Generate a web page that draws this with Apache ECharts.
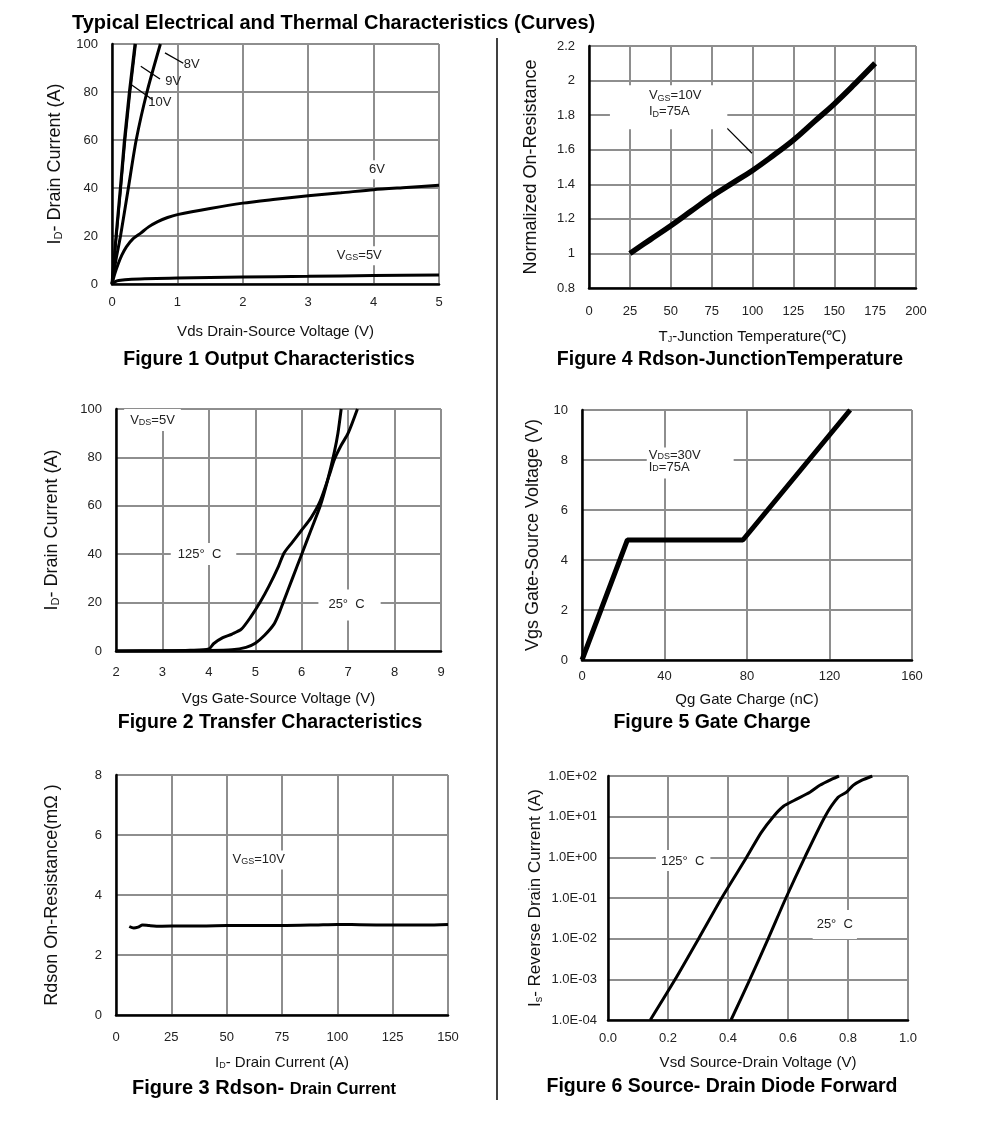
<!DOCTYPE html>
<html><head><meta charset="utf-8">
<script src="https://cdn.jsdelivr.net/npm/echarts@6/dist/echarts.min.js"></script>
<style>html,body{margin:0;padding:0;background:#fff}#c{width:991px;height:1122px}</style>
</head><body><div id="c"></div>
<script>
// ---------- DATA ----------
// Figure 1: Output characteristics  [Vds (V), Id (A)]
const fig1Vgs10 = [[0,0],[0.062,20],[0.128,40],[0.19,60],[0.266,80],[0.352,100]];
const fig1Vgs9  = [[0,0],[0.068,20],[0.135,40],[0.2,60],[0.276,80],[0.362,100]];
const fig1Vgs8  = [[0,0],[0.06,10],[0.13,20],[0.25,40],[0.37,60],[0.535,80],[0.74,100]];
const fig1Vgs6  = [[0,0],[0.04,4],[0.09,8],[0.15,12],[0.22,15.5],[0.32,18.8],[0.44,21.2],[0.56,23.8],[0.7,26],[0.85,27.7],[1,28.9],[1.5,31.5],[2,33.7],[2.5,35.3],[3,36.8],[3.5,38],[4,39.3],[4.5,40.2],[5,41.1]];
const fig1Vgs5  = [[0,0],[0.05,1],[0.1,1.5],[0.3,2],[1,2.5],[2,2.9],[3,3.2],[4,3.5],[5,3.8]];
// Figure 2: Transfer characteristics [Vgs (V), Id (A)]
const fig2T25  = [[2,0],[3,0.1],[4,0.2],[4.5,0.5],[4.8,1.5],[5.0,3.2],[5.2,6.5],[5.4,11],[5.5,15],[5.6,20],[5.8,30],[6.0,40],[6.2,50],[6.4,60],[6.55,70],[6.7,82],[6.78,90],[6.85,100]];
const fig2T125 = [[2,0],[3,0.1],[3.6,0.3],[4.0,0.8],[4.1,3],[4.3,5.5],[4.5,7],[4.7,9],[4.9,14],[5.1,20],[5.3,27],[5.5,35],[5.62,40.5],[5.8,45],[6.0,50],[6.2,55],[6.4,62],[6.6,73],[6.7,79],[6.85,85],[7.0,90],[7.2,100]];
// Figure 3: Rdson vs drain current
const fig3Id    = [6,8,10,12,15,20,30,40,50,60,75,90,100,110,125,140,150];
const fig3Rdson = [2.95,2.9,2.93,3.0,2.98,2.96,2.97,2.97,2.98,2.98,2.98,3.0,3.02,3.01,3.0,3.0,3.02];
// Figure 4: normalized Rdson vs Tj
const fig4Tj   = [25,37.5,50,62.5,75,87.5,100,112.5,125,137.5,150,162.5,175];
const fig4Norm = [1.0,1.08,1.16,1.245,1.33,1.405,1.48,1.565,1.655,1.76,1.865,1.98,2.1];
// Figure 5: gate charge [Qg (nC), Vgs (V)]
const fig5Qg  = [0,22,78,130];
const fig5Vgs = [0,4.8,4.8,10];
// Figure 6: diode forward [Vsd (V), Is (A)]
const fig6T125 = [[0.141,1e-4],[0.224,1e-3],[0.302,1e-2],[0.379,1e-1],[0.462,1],[0.51,4],[0.551,10],[0.585,18],[0.62,25],[0.673,40],[0.706,59],[0.75,86],[0.77,100]];
const fig6T25  = [[0.41,1e-4],[0.473,1e-3],[0.534,1e-2],[0.593,1e-1],[0.656,1],[0.723,10],[0.767,30],[0.795,40],[0.817,59],[0.845,78],[0.881,100]];

// ---------- STYLE ----------
const FONT = "'Liberation Sans', Arial, Helvetica, sans-serif";
const GRIDC = '#8e8e8e';
const RICH = {
  sub: { fontSize: 9, lineHeight: 10, verticalAlign: 'bottom', fontFamily: FONT, color: '#222' },
  subN: { fontSize: 11, lineHeight: 11, verticalAlign: 'bottom', fontFamily: FONT, color: '#222' }
};

function axis(gi, min, max, interval, name, gap, margin, nameSize, fmt, extra) {
  const a = {
    gridIndex: gi, type: 'value', min: min, max: max,
    name: name, nameLocation: 'middle', nameGap: gap,
    nameTextStyle: { fontFamily: FONT, fontSize: nameSize, color: '#111', rich: RICH },
    axisLine: { show: true, onZero: false, lineStyle: { color: '#000', width: 2.5 } },
    axisTick: { show: false },
    axisLabel: { margin: margin, fontFamily: FONT, fontSize: 13, color: '#222' },
    splitLine: { show: true, lineStyle: { color: GRIDC, width: 2 } }
  };
  if (interval != null) a.interval = interval;
  if (fmt) a.axisLabel.formatter = fmt;
  return Object.assign(a, extra || {});
}
function line(gi, data, width, extra) {
  return Object.assign({
    type: 'line', xAxisIndex: gi, yAxisIndex: gi, data: data, symbol: 'none',
    smooth: 0.25,
    lineStyle: { color: '#000', width: width }, itemStyle: { color: '#000' }, silent: true
  }, extra || {});
}
function note(x, y, text, opts) {
  return {
    coord: [x, y], symbol: 'rect', symbolSize: 0,
    label: Object.assign({
      show: true, position: 'inside', formatter: text, fontFamily: FONT, fontSize: 13,
      color: '#222', rich: RICH, backgroundColor: '#fff', padding: 3
    }, opts || {})
  };
}
function notes(list) { return { silent: true, animation: false, data: list }; }
function arrows(list) {
  return {
    silent: true, animation: false, symbol: ['none', 'arrow'], symbolSize: [0, 8],
    label: { show: false }, lineStyle: { color: '#000', width: 1.3, type: 'solid' },
    emphasis: { disabled: true },
    data: list.map(a => [{ coord: a[0] }, { coord: a[1] }])
  };
}
const logFmt = v => { const e = Math.round(Math.log10(v)); return '1.0E' + (e < 0 ? '-' : '+') + String(Math.abs(e)).padStart(2, '0'); };
const XN = 15, YN = 18;

const option = {
  animation: false,
  backgroundColor: '#fff',
  grid: [
    { left: 112, top: 44, width: 327, height: 240 },   // Fig 1
    { left: 589, top: 46, width: 327, height: 242 },   // Fig 4
    { left: 116, top: 409, width: 325, height: 242 },  // Fig 2
    { left: 582, top: 410, width: 330, height: 250 },  // Fig 5
    { left: 116, top: 775, width: 332, height: 240 },  // Fig 3
    { left: 608, top: 776, width: 300, height: 244 }   // Fig 6
  ],
  xAxis: [
    axis(0, 0, 5, 1, 'Vds Drain-Source Voltage (V)', 40, 12, XN),
    axis(1, 0, 200, 25, 'T{sub|J}-Junction Temperature(℃)', 41, 17, XN),
    axis(2, 2, 9, 1, 'Vgs Gate-Source Voltage (V)', 40, 15, XN),
    axis(3, 0, 160, 40, 'Qg Gate Charge (nC)', 32, 10, XN),
    axis(4, 0, 150, 25, 'I{sub|D}- Drain Current (A)', 40, 16, XN),
    axis(5, 0, 1, 0.2, 'Vsd Source-Drain Voltage (V)', 35, 12, XN, v => v.toFixed(1))
  ],
  yAxis: [
    axis(0, 0, 100, 20, 'I{subN|D}- Drain Current (A)', 48, 14, YN),
    axis(1, 0.8, 2.2, 0.2, 'Normalized On-Resistance', 49, 14, YN),
    axis(2, 0, 100, 20, 'I{subN|D}- Drain Current (A)', 55, 14, YN),
    axis(3, 0, 10, 2, 'Vgs Gate-Source Voltage (V)', 40, 14, YN),
    axis(4, 0, 8, 2, 'Rdson On-Resistance(mΩ )', 55, 14, YN),
    axis(5, 1e-4, 100, null, 'I{subN|s}- Reverse Drain Current (A)', 59, 11, 17, logFmt, { type: 'log', logBase: 10 })
  ],
  series: [
    // Fig 1
    line(0, fig1Vgs10, 3, { smooth: false }),
    line(0, fig1Vgs9, 2.5, { smooth: false }),
    line(0, fig1Vgs8, 3, {
      markLine: arrows([[[1.09, 92], [0.81, 96.3]], [[0.734, 85.4], [0.44, 90.7]], [[0.622, 76.8], [0.275, 83.4]]])
    }),
    line(0, fig1Vgs6, 3),
    line(0, fig1Vgs5, 3, {
      markPoint: notes([
        note(1.22, 91.4, '8V', { backgroundColor: 'transparent' }),
        note(0.937, 84.4, '9V', { backgroundColor: 'transparent' }),
        note(0.73, 75.7, '10V', { backgroundColor: 'transparent' }),
        note(4.05, 47.6, '6V'),
        note(3.78, 11.8, 'V{sub|GS}=5V')
      ])
    }),
    // Fig 4
    line(1, fig4Tj.map((t, i) => [t, fig4Norm[i]]), 5.5, {
      smooth: 0.4,
      markPoint: notes([
        note(12.8, 1.846, 'V{sub|GS}=10V\nI{sub|D}=75A', { align: 'left', verticalAlign: 'middle', lineHeight: 16, padding: [2, 26, 10, 39] })
      ]),
      markLine: arrows([[[84.4, 1.725], [99.7, 1.58]]])
    }),
    // Fig 2
    line(2, fig2T25, 3),
    line(2, fig2T125, 3, {
      markPoint: notes([
        note(2.786, 95.5, 'V{sub|DS}=5V', { padding: [5, 6, 4, 6] }),
        note(3.885, 40.1, '125°  C', { padding: [5, 15, 4, 7] }),
        note(7.03, 19, '25°  C', { padding: [8, 16, 10, 10] })
      ])
    }),
    // Fig 5
    line(3, fig5Qg.map((q, i) => [q, fig5Vgs[i]]), 5, {
      smooth: false,
      markPoint: notes([
        note(31.4, 7.88, 'V{sub|DS}=30V\nI{sub|D}=75A', { align: 'left', verticalAlign: 'middle', lineHeight: 12, padding: [2, 33, 5, 2] })
      ])
    }),
    // Fig 3
    line(4, fig3Id.map((d, i) => [d, fig3Rdson[i]]), 3, {
      markPoint: notes([ note(64.5, 5.17, 'V{sub|GS}=10V') ])
    }),
    // Fig 6
    line(5, fig6T125, 3),
    line(5, fig6T25, 3, {
      markPoint: notes([
        note(0.2505, 0.84, '125°  C', { padding: [5, 6, 3, 5] }),
        note(0.756, 0.0222, '25°  C', { padding: [8, 4, 8, 4] })
      ])
    })
  ],
  graphic: [
    { type: 'text', x: 72, y: 23, style: { text: 'Typical Electrical and Thermal Characteristics (Curves)', font: 'bold 20px ' + FONT, fill: '#000', align: 'left', verticalAlign: 'middle', textAlign: 'left', textVerticalAlign: 'middle' } },
    { type: 'line', shape: { x1: 497, y1: 38, x2: 497, y2: 1100 }, style: { stroke: '#000', lineWidth: 1.5 } },
    { type: 'text', x: 269, y: 360, style: { text: 'Figure 1 Output Characteristics', font: 'bold 19.5px ' + FONT, fill: '#000', align: 'center', verticalAlign: 'middle', textAlign: 'center', textVerticalAlign: 'middle' } },
    { type: 'text', x: 730, y: 360, style: { text: 'Figure 4 Rdson-JunctionTemperature', font: 'bold 19.5px ' + FONT, fill: '#000', align: 'center', verticalAlign: 'middle', textAlign: 'center', textVerticalAlign: 'middle' } },
    { type: 'text', x: 270, y: 723, style: { text: 'Figure 2 Transfer Characteristics', font: 'bold 19.5px ' + FONT, fill: '#000', align: 'center', verticalAlign: 'middle', textAlign: 'center', textVerticalAlign: 'middle' } },
    { type: 'text', x: 712, y: 723, style: { text: 'Figure 5 Gate Charge', font: 'bold 19.5px ' + FONT, fill: '#000', align: 'center', verticalAlign: 'middle', textAlign: 'center', textVerticalAlign: 'middle' } },
    { type: 'text', x: 264, y: 1088, style: { text: '{b|Figure 3 Rdson- }{s|Drain Current}', rich: { b: { font: 'bold 20px ' + FONT, fill: '#000', color: '#000', verticalAlign: 'bottom' }, s: { font: 'bold 16.5px ' + FONT, fill: '#000', color: '#000', verticalAlign: 'bottom' } }, align: 'center', verticalAlign: 'middle', textAlign: 'center', textVerticalAlign: 'middle' } },
    { type: 'text', x: 722, y: 1087, style: { text: 'Figure 6 Source- Drain Diode Forward', font: 'bold 19.5px ' + FONT, fill: '#000', align: 'center', verticalAlign: 'middle', textAlign: 'center', textVerticalAlign: 'middle' } }
  ]
};

const chart = echarts.init(document.getElementById('c'), null, { renderer: 'canvas' });
chart.setOption(option);
</script></body></html>
